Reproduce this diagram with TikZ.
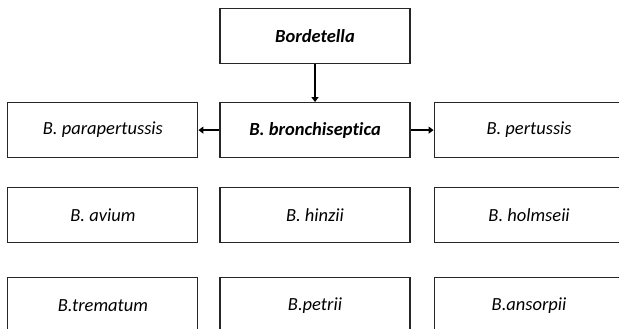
\documentclass[tikz,border=0pt]{standalone}
\usepackage{fontspec}
\setmainfont{Carlito}[Ligatures=NoCommon]
\usetikzlibrary{positioning,arrows.meta}

\tikzset{
    taxon/.style={draw=black!85, line width=1.1pt, minimum width=190pt, minimum height=55pt,
                  inner sep=0pt, font=\fontsize{18.5}{22}\selectfont\itshape},
    genus/.style={taxon, font=\fontsize{18.5}{22}\selectfont\bfseries\itshape},
    link/.style={line width=2.4pt, -{Triangle[length=5pt,width=7pt]}}
}

\begin{document}
\begin{tikzpicture}
    \useasboundingbox (0,0) rectangle (619pt,-329pt);
    \clip (0,0) rectangle (619pt,-329pt);
    \node[genus] (bord) at (315pt,-36pt) {Bordetella};
    \node[genus, below=38pt of bord] (bronch) {B. bronchiseptica};
    \node[taxon, left=21pt of bronch] (parap) {B. parapertussis};
    \node[taxon, right=23pt of bronch] (pert) {B. pertussis};
    % other species
    \node[taxon, below=29pt of parap] (avium) {B. avium};
    \node[taxon, below=29pt of bronch] (hinzii) {B. hinzii};
    \node[taxon, below=29pt of pert] (holm) {B. holmseii};
    \node[taxon, below=34pt of avium] (trem) {B.trematum};
    \node[taxon, below=34pt of hinzii] (petrii) {B.petrii};
    \node[taxon, below=34pt of holm] (ansorp) {B.ansorpii};
    \draw[link, line width=1.8pt] (bord) -- (bronch);
    \draw[link] (bronch) -- (parap);
    \draw[link] (bronch) -- (pert);
\end{tikzpicture}
\end{document}
